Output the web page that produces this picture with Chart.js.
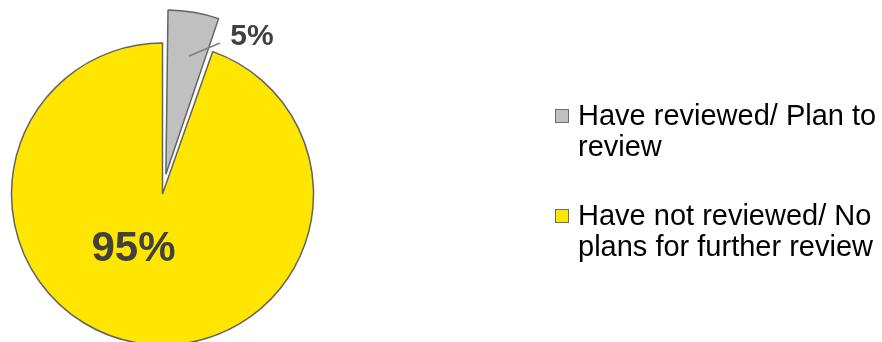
<!DOCTYPE html>
<html>
<head>
<meta charset="utf-8">
<script src="https://cdn.jsdelivr.net/npm/chart.js@4/dist/chart.umd.min.js"></script>
<style>
  html, body { margin: 0; padding: 0; background: #ffffff; overflow: hidden; }
  #wrap { position: relative; width: 882px; height: 342px; }
  #c { position: absolute; left: 0; top: 0; }
  .leg { position: absolute; left: 555px; font-family: "Liberation Sans", Arial, sans-serif;
         font-size: 29px; line-height: 31px; color: #000; white-space: nowrap; }
  .leg .sw { position: absolute; left: 0; top: 9px; width: 12px; height: 12px; border: 1.5px solid #6b6b6b; }
  .leg .tx { margin-left: 23px; }
</style>
</head>
<body>
<div id="wrap">
  <canvas id="c" width="882" height="342"></canvas>
</div>
<script>
const categories = ["Have reviewed/ Plan to review", "Have not reviewed/ No plans for further review"];
const legendLines = [["Have reviewed/ Plan to", "review"], ["Have not reviewed/ No", "plans for further review"]];
const values = [5.4, 94.6];
const valueLabels = ["5%", "95%"];
const colors = ["#C0C0C0", "#FFE600"];

// HTML legend
const wrap = document.getElementById('wrap');
const legTops = [100, 200];
categories.forEach((cat, i) => {
  const d = document.createElement('div');
  d.className = 'leg';
  d.style.top = legTops[i] + 'px';
  const sw = document.createElement('div');
  sw.className = 'sw';
  sw.style.background = colors[i];
  const tx = document.createElement('div');
  tx.className = 'tx';
  tx.innerHTML = legendLines[i].join('<br>');
  d.appendChild(sw);
  d.appendChild(tx);
  wrap.appendChild(d);
});

const labelPlugin = {
  id: 'sliceLabels',
  afterDatasetsDraw(chart) {
    const ctx = chart.ctx;
    const arcs = chart.getDatasetMeta(0).data;
    const cx = arcs[0].x, cy = arcs[0].y;
    ctx.save();
    ctx.strokeStyle = '#7f7f7f';
    ctx.lineWidth = 1.5;
    ctx.beginPath();
    ctx.moveTo(cx + 26.5, cy - 138);
    ctx.lineTo(cx + 57.5, cy - 151);
    ctx.stroke();
    ctx.fillStyle = '#404040';
    ctx.textAlign = 'center';
    ctx.textBaseline = 'middle';
    ctx.font = 'bold 30px "Liberation Sans", Arial, sans-serif';
    ctx.fillText(valueLabels[0], cx + 89.5, cy - 157);
    ctx.font = 'bold 42px "Liberation Sans", Arial, sans-serif';
    ctx.fillText(valueLabels[1], cx - 29, cy + 55);
    ctx.restore();
  }
};

new Chart(document.getElementById('c'), {
  type: 'pie',
  data: {
    labels: categories,
    datasets: [{
      data: values,
      backgroundColor: colors,
      borderColor: '#636363',
      borderWidth: 1.5,
      offset: [80, 0],
      radius: 151,
      clip: false
    }]
  },
  options: {
    responsive: false,
    animation: false,
    layout: { padding: { left: 0, right: 557, top: 46, bottom: 0 } },
    plugins: {
      legend: { display: false },
      tooltip: { enabled: false }
    }
  },
  plugins: [labelPlugin]
});
</script>
</body>
</html>
